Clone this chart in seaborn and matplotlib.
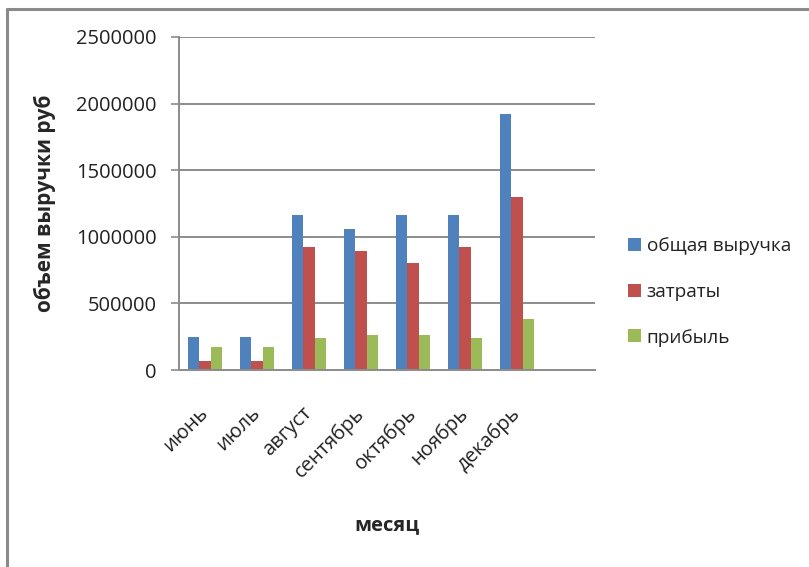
import matplotlib
matplotlib.use("Agg")
import matplotlib.pyplot as plt
from matplotlib.lines import Line2D
from matplotlib.patches import Patch
from matplotlib.ticker import FuncFormatter
from matplotlib.transforms import ScaledTranslation
import seaborn as sns
import pandas as pd

# Monthly figures, roubles
months = ["июнь", "июль", "август", "сентябрь", "октябрь", "ноябрь", "декабрь"]
revenue = [250000, 250000, 1160000, 1060000, 1160000, 1160000, 1920000]
costs = [70000, 70000, 920000, 890000, 800000, 920000, 1300000]
profit = [175000, 175000, 240000, 265000, 265000, 240000, 380000]
series_names = ["общая выручка", "затраты", "прибыль"]
y_ticks = [0, 500000, 1000000, 1500000, 2000000, 2500000]

colors = ["#4F81BD", "#C0504D", "#9BBB59"]

df = pd.DataFrame({
    "месяц": months * 3,
    "серия": [series_names[0]] * len(months) + [series_names[1]] * len(months)
             + [series_names[2]] * len(months),
    "значение": revenue + costs + profit,
})

sns.set_style("white")
plt.rcParams["font.family"] = ["Open Sans", "DejaVu Sans"]

W, H = 809, 567
fig = plt.figure(figsize=(W / 100, H / 100), dpi=100)
ax = fig.add_axes([179 / W, 1 - 370 / H, (595 - 179) / W, (370 - 37) / H])

sns.barplot(data=df, x="месяц", y="значение", hue="серия", order=months,
            hue_order=series_names, palette=colors, width=0.66, gap=0,
            linewidth=0, saturation=1, ax=ax, legend=False)

grid_c = "#8c8c8c"
ax.set_xlim(-0.5, 7.5)
ax.set_ylim(0, 2500000)
ax.set_yticks(y_ticks)
ax.yaxis.set_major_formatter(FuncFormatter(lambda v, p: f"{int(v)}"))
ax.yaxis.grid(True, color=grid_c, linewidth=1.4)
ax.set_axisbelow(True)
for s in ["top", "right"]:
    ax.spines[s].set_visible(False)
for s in ["left", "bottom"]:
    ax.spines[s].set_color(grid_c)
    ax.spines[s].set_linewidth(1.4)

ax.tick_params(axis="y", which="major", length=6, width=1.2, color=grid_c,
               direction="out", left=True, pad=10, labelsize=14.5,
               labelcolor="#222222")
ax.tick_params(axis="x", length=0, pad=24, labelsize=14.5, labelcolor="#222222")
shift = ScaledTranslation(-7 / 100, 0, fig.dpi_scale_trans)
for lbl in ax.get_xticklabels():
    lbl.set_rotation(45)
    lbl.set_ha("right")
    lbl.set_va("top")
    lbl.set_rotation_mode("anchor")
    lbl.set_transform(lbl.get_transform() + shift)

ax.set_xlabel("месяц", fontsize=14.5, fontweight="bold", labelpad=24)
ax.set_ylabel("объем выручки руб", fontsize=15, fontweight="bold")
ax.yaxis.set_label_coords(-(179 - 56) / (595 - 179), (370 - 203) / (370 - 37))

handles = [Patch(facecolor=c, edgecolor="none") for c in colors]
fig.legend(handles, series_names, loc="center left",
           bbox_to_anchor=(628 / W, 1 - 292 / H), frameon=False,
           fontsize=13.7, handlelength=0.68, handleheight=0.68,
           handletextpad=0.3, labelspacing=1.45, borderaxespad=0,
           borderpad=0, labelcolor="#222222")

# Chart area frame
fig.add_artist(Line2D([7 / W, 7 / W], [0, 1 - 9 / H], transform=fig.transFigure,
                      color="#8a8a8a", linewidth=2.2))
fig.add_artist(Line2D([7 / W, 1], [1 - 9 / H, 1 - 9 / H], transform=fig.transFigure,
                      color="#8a8a8a", linewidth=2.2))

fig.savefig("out.png", dpi=100)
